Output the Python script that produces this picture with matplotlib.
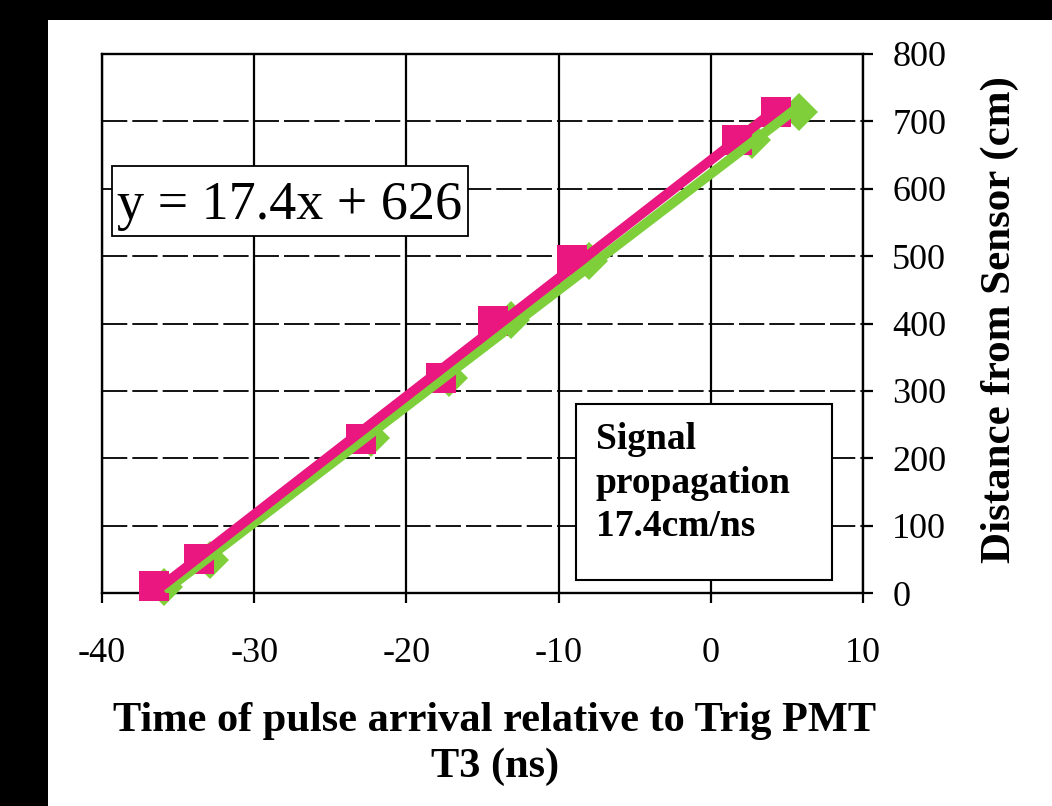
import numpy as np
import matplotlib
matplotlib.use("Agg")
import matplotlib.pyplot as plt
from matplotlib.patches import Rectangle

# pink squares and green diamonds, time (ns) vs distance (cm)
time_sq = [-36.6, -33.6, -23.0, -17.7, -14.3, -9.1, 1.7, 4.3]
dist_sq = [10, 50, 228, 319, 403, 494, 673, 714]
time_dia = [-35.9, -32.9, -22.3, -17.2, -13.1, -8.0, 2.7, 5.8]
dist_dia = [9, 49, 230, 319, 405, 493, 672, 714]

# trend label as printed on the chart
label_slope = 17.4
label_icept = 626

x_ticks = [-40, -30, -20, -10, 0, 10]
y_ticks = [0, 100, 200, 300, 400, 500, 600, 700, 800]

PINK = '#E9177F'
GREEN = '#7FCF3B'
W, H = 1052, 806

plt.rcParams['font.family'] = ['Liberation Serif', 'DejaVu Serif']

fig = plt.figure(figsize=(W / 100, H / 100), dpi=100, facecolor='black')
fig.patches.append(Rectangle((48 / W, 0), 1 - 48 / W, 1 - 20 / H, transform=fig.transFigure,
                             fc='white', ec='none', zorder=-10))

ax = fig.add_axes([102 / W, 1 - 593 / H, 761 / W, 539 / H])
ax.set_facecolor('white')
ax.set_xlim(-40, 10)
ax.set_ylim(0, 800)
ax.set_xticks(x_ticks)
ax.set_yticks(y_ticks)
ax.set_xticklabels([str(v) for v in x_ticks])
ax.yaxis.tick_right()

for v in x_ticks:
    ax.axvline(v, color='black', lw=1.6, zorder=1)
for v in y_ticks:
    ax.axhline(v, color='black', lw=1.3, ls=(0, (14, 2.8)), zorder=1)

for s in ax.spines.values():
    s.set_color('black')
    s.set_linewidth(1.7)

ax.tick_params(axis='x', direction='out', length=7, width=1.6, labelsize=26, pad=25, colors='black')
ax.tick_params(axis='y', direction='out', length=7, width=1.6, labelsize=26, pad=14, colors='black',
               left=False, right=True)

# markers
ax.plot(time_dia, dist_dia, ls='none', marker='D', ms=19, mew=0, color=GREEN, zorder=3, clip_on=False)
ax.plot(time_sq, dist_sq, ls='none', marker='s', ms=22, mew=0, color=PINK, zorder=4, clip_on=False)

# linear trendlines of each series, over each series' own x range
for tx, dy, col, z in [(time_sq, dist_sq, PINK, 6), (time_dia, dist_dia, GREEN, 5)]:
    k, b = np.polyfit(tx, dy, 1)
    xs = np.array([min(tx), max(tx)])
    ax.plot(xs, k * xs + b, color=col, lw=7, zorder=z, solid_capstyle='butt')

# equation box
fig.patches.append(Rectangle((112 / W, 1 - 236 / H), 356 / W, 70 / H, transform=fig.transFigure,
                             fc='white', ec='black', lw=1.3, zorder=2))
fig.text(290 / W, 1 - 206 / H, f'y = {label_slope}x + {label_icept}', fontsize=39,
         ha='center', va='center', zorder=3)

# annotation box
fig.patches.append(Rectangle((576 / W, 1 - 580 / H), 256 / W, 176 / H, transform=fig.transFigure,
                             fc='white', ec='black', lw=1.5, zorder=2))
fig.text(596 / W, 1 - 422 / H, f'Signal\npropagation\n{label_slope}cm/ns', fontsize=27,
         fontweight='bold', ha='left', va='top', linespacing=1.32, zorder=3)

fig.text(495 / W, 1 - 702 / H, 'Time of pulse arrival relative to Trig PMT\nT3 (ns)',
         fontsize=30.5, fontweight='bold', ha='center', va='top', linespacing=1.25)
fig.text(1000 / W, 1 - 320 / H, 'Distance from Sensor (cm)', fontsize=31, fontweight='bold',
         rotation=90, ha='center', va='center')

fig.savefig('out.png', dpi=100, facecolor=fig.get_facecolor())
